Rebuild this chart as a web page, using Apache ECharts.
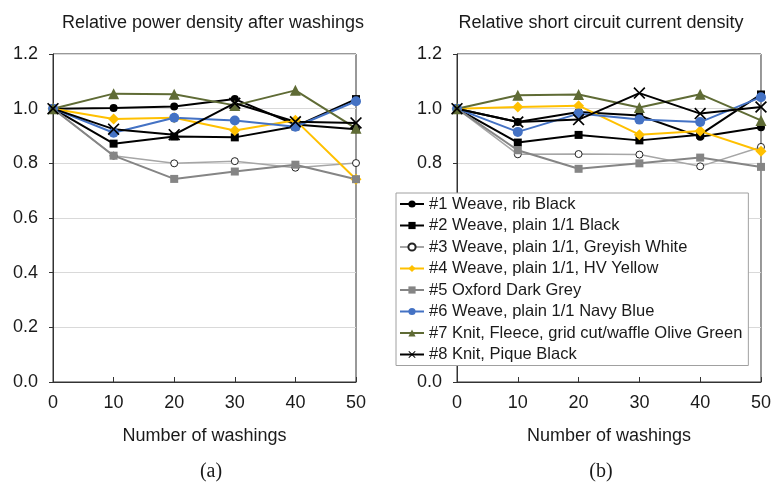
<!DOCTYPE html>
<html>
<head>
<meta charset="utf-8">
<script src="https://cdn.jsdelivr.net/npm/echarts@6/dist/echarts.min.js"></script>
<style>
  html, body { margin: 0; padding: 0; background: #fff; }
  #chart { width: 774px; height: 482px; }
</style>
</head>
<body>
<div id="chart"></div>
<script>
const washings = [0, 10, 20, 30, 40, 50]
const sampleNames = [
  '#1 Weave, rib Black',
  '#2 Weave, plain 1/1 Black',
  '#3 Weave, plain 1/1, Greyish White',
  '#4 Weave, plain 1/1, HV Yellow',
  '#5 Oxford Dark Grey',
  '#6 Weave, plain 1/1 Navy Blue',
  '#7 Knit, Fleece, grid cut/waffle Olive Green',
  '#8 Knit, Pique Black'
]

// (a) relative power density
const power1 = [1.0, 1.002, 1.008, 1.035, 0.942, 0.925]
const power2 = [1.0, 0.872, 0.898, 0.895, 0.935, 1.035]
const power3 = [1.0, 0.828, 0.800, 0.808, 0.784, 0.801]
const power4 = [1.0, 0.962, 0.967, 0.920, 0.958, 0.742]
const power5 = [1.0, 0.828, 0.743, 0.770, 0.795, 0.742]
const power6 = [1.0, 0.912, 0.967, 0.957, 0.934, 1.027]
const power7 = [1.0, 1.055, 1.053, 1.012, 1.067, 0.928]
const power8 = [1.0, 0.925, 0.905, 1.020, 0.952, 0.948]

// (b) relative short circuit current density
const current1 = [1.0, 0.951, 0.988, 0.975, 0.897, 0.932]
const current2 = [1.0, 0.876, 0.904, 0.884, 0.905, 1.052]
const current3 = [1.0, 0.833, 0.834, 0.832, 0.789, 0.860]
const current4 = [1.0, 1.006, 1.011, 0.905, 0.918, 0.844]
const current5 = [1.0, 0.848, 0.780, 0.800, 0.821, 0.787]
const current6 = [1.0, 0.915, 0.982, 0.960, 0.951, 1.042]
const current7 = [1.0, 1.049, 1.052, 1.004, 1.053, 0.957]
const current8 = [1.0, 0.951, 0.960, 1.057, 0.982, 1.006]

const powerSets = [power1, power2, power3, power4, power5, power6, power7, power8]
const currentSets = [current1, current2, current3, current4, current5, current6, current7, current8]

const FONT = '"Liberation Sans", Arial, sans-serif'
const crossPath = 'path://M0,1L1,0L5,4L9,0L10,1L6,5L10,9L9,10L5,6L1,10L0,9L4,5Z'

// per-series look: line colour, marker, marker size, marker fill/border
const looks = [
  { line: '#000000', symbol: 'circle', size: 8, fill: '#000000' },
  { line: '#000000', symbol: 'rect', size: 8, fill: '#000000' },
  { line: '#a6a6a6', symbol: 'circle', size: 7, fill: '#ffffff', border: '#222222', lw: 1.5 },
  { line: '#ffc000', symbol: 'diamond', size: 11, fill: '#ffc000' },
  { line: '#858585', symbol: 'rect', size: 8, fill: '#858585' },
  { line: '#4472c4', symbol: 'circle', size: 10, fill: '#4472c4' },
  { line: '#5f6b35', symbol: 'triangle', size: 11, fill: '#5f6b35' },
  { line: '#000000', symbol: crossPath, size: 12, fill: '#000000' }
]

function buildSeries(sets, gridIndex) {
  return sets.map((vals, i) => {
    const lk = looks[i]
    const itemStyle = { color: lk.fill }
    if (lk.border) { itemStyle.borderColor = lk.border; itemStyle.borderWidth = 1 }
    return {
      name: sampleNames[i], type: 'line',
      xAxisIndex: gridIndex, yAxisIndex: gridIndex,
      data: washings.map((w, k) => [w, vals[k]]),
      symbol: lk.symbol, symbolSize: lk.size, showAllSymbol: true,
      lineStyle: { color: lk.line, width: lk.lw || 2 },
      itemStyle, emphasis: { disabled: true }, animation: false
    }
  })
}

const axisX = gridIndex => ({
  type: 'value', gridIndex, min: 0, max: 50, interval: 10,
  name: 'Number of washings', nameLocation: 'middle', nameGap: 45,
  nameTextStyle: { color: '#1a1a1a', fontSize: 18, fontFamily: FONT },
  axisLine: { lineStyle: { color: '#333', width: 1 } },
  axisTick: { inside: true, length: 5, lineStyle: { color: '#333' } },
  axisLabel: { color: '#1a1a1a', fontSize: 18, fontFamily: FONT, margin: 12 },
  splitLine: { show: false }
})

const axisY = gridIndex => ({
  type: 'value', gridIndex, min: 0, max: 1.2, interval: 0.2,
  axisLine: { show: true, lineStyle: { color: '#333', width: 1 } },
  axisTick: { show: true, length: 4, lineStyle: { color: '#333' } },
  axisLabel: { color: '#1a1a1a', fontSize: 18, fontFamily: FONT, margin: 15,
    formatter: v => v.toFixed(1) },
  splitLine: { lineStyle: { color: '#d9d9d9', width: 1 } }
})

const chart = echarts.init(document.getElementById('chart'), null, { renderer: 'canvas' })
chart.setOption({
  backgroundColor: '#fff',
  animation: false,
  grid: [
    { left: 53, top: 54, width: 303, height: 328, show: true, borderColor: '#333', borderWidth: 1 },
    { left: 457, top: 54, width: 305, height: 328, show: true, borderColor: '#333', borderWidth: 1 }
  ],
  xAxis: [axisX(0), axisX(1)],
  yAxis: [axisY(0), axisY(1)],
  legend: {
    orient: 'vertical', left: 396, top: 193,
    data: sampleNames,
    backgroundColor: '#fff', borderColor: '#a0a0a0', borderWidth: 1,
    padding: [2, 6, 2, 3], itemGap: 3.5, itemWidth: 24, itemHeight: 9,
    textStyle: { color: '#1a1a1a', fontSize: 16.5, fontFamily: FONT, lineHeight: 18 },
    selectedMode: false
  },
  graphic: [
    { type: 'text', x: 213, y: 23, style: { text: 'Relative power density after washings',
      fontSize: 18, fontFamily: FONT, fill: '#1a1a1a', align: 'center', verticalAlign: 'middle' } },
    { type: 'text', x: 601, y: 23, style: { text: 'Relative short circuit current density',
      fontSize: 18, fontFamily: FONT, fill: '#1a1a1a', align: 'center', verticalAlign: 'middle' } },
    { type: 'text', x: 211, y: 472, style: { text: '(a)',
      fontSize: 20, fontFamily: '"Liberation Serif", "Times New Roman", serif', fill: '#1a1a1a', align: 'center', verticalAlign: 'middle' } },
    { type: 'text', x: 601, y: 472, style: { text: '(b)',
      fontSize: 20, fontFamily: '"Liberation Serif", "Times New Roman", serif', fill: '#1a1a1a', align: 'center', verticalAlign: 'middle' } }
  ],
  series: [...buildSeries(powerSets, 0), ...buildSeries(currentSets, 1)]
})
</script>
</body>
</html>
